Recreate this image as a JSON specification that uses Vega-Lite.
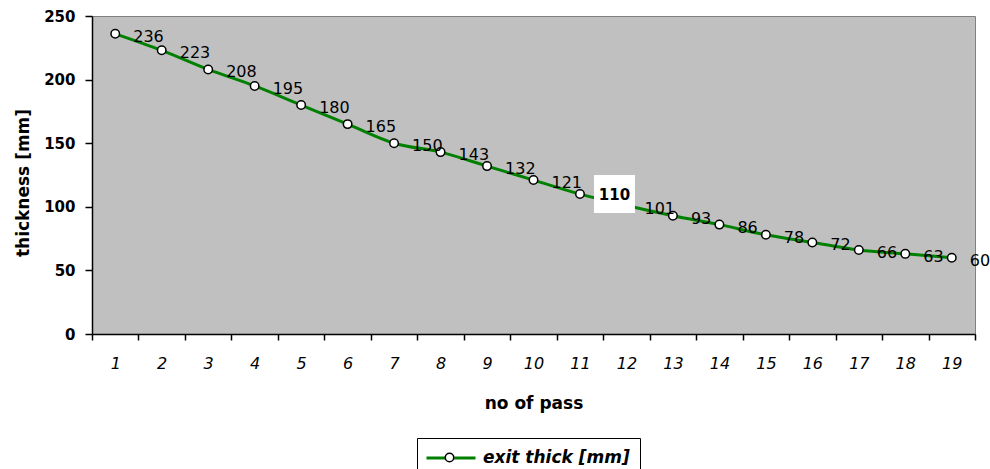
{
  "$schema": "https://vega.github.io/schema/vega-lite/v6.json",
  "width": 883,
  "height": 318,
  "autosize": {"type": "none"},
  "padding": {"left": 92, "top": 16, "right": 15, "bottom": 135},
  "background": "white",
  "data": {
    "values": [
      {"pass": 1, "thickness": 236, "series": "exit thick [mm]"},
      {"pass": 2, "thickness": 223, "series": "exit thick [mm]"},
      {"pass": 3, "thickness": 208, "series": "exit thick [mm]"},
      {"pass": 4, "thickness": 195, "series": "exit thick [mm]"},
      {"pass": 5, "thickness": 180, "series": "exit thick [mm]"},
      {"pass": 6, "thickness": 165, "series": "exit thick [mm]"},
      {"pass": 7, "thickness": 150, "series": "exit thick [mm]"},
      {"pass": 8, "thickness": 143, "series": "exit thick [mm]"},
      {"pass": 9, "thickness": 132, "series": "exit thick [mm]"},
      {"pass": 10, "thickness": 121, "series": "exit thick [mm]"},
      {"pass": 11, "thickness": 110, "series": "exit thick [mm]"},
      {"pass": 12, "thickness": 101, "series": "exit thick [mm]"},
      {"pass": 13, "thickness": 93, "series": "exit thick [mm]"},
      {"pass": 14, "thickness": 86, "series": "exit thick [mm]"},
      {"pass": 15, "thickness": 78, "series": "exit thick [mm]"},
      {"pass": 16, "thickness": 72, "series": "exit thick [mm]"},
      {"pass": 17, "thickness": 66, "series": "exit thick [mm]"},
      {"pass": 18, "thickness": 63, "series": "exit thick [mm]"},
      {"pass": 19, "thickness": 60, "series": "exit thick [mm]"}
    ]
  },
  "encoding": {
    "x": {
      "field": "pass",
      "type": "ordinal",
      "scale": {"type": "band", "paddingInner": 0, "paddingOuter": 0},
      "axis": {
        "title": "no of pass",
        "tickBand": "extent",
        "labelAngle": 0,
        "tickSize": 6,
        "labelPadding": 15,
        "labelFontStyle": "italic",
        "labelFontSize": 16,
        "titleFontSize": 17,
        "titleFontWeight": "bold",
        "titleY": 69,
        "titleBaseline": "middle",
        "grid": false
      }
    },
    "y": {
      "field": "thickness",
      "type": "quantitative",
      "scale": {"domain": [0, 250], "nice": false},
      "axis": {
        "title": "thickness [mm]",
        "values": [0, 50, 100, 150, 200, 250],
        "tickSize": 7,
        "labelPadding": 10,
        "labelFontWeight": "bold",
        "labelFontSize": 15,
        "titleFontSize": 17,
        "titleFontWeight": "bold",
        "titleX": -69,
        "titleY": 166.5,
        "titleAngle": 270,
        "titleBaseline": "middle",
        "titleAlign": "center",
        "grid": false
      }
    }
  },
  "layer": [
    {
      "mark": {"type": "line", "strokeWidth": 3, "interpolate": "monotone"},
      "encoding": {
        "stroke": {
          "field": "series",
          "type": "nominal",
          "scale": {"range": ["#008000"]},
          "legend": {
            "title": null,
            "orient": "none",
            "legendX": 325,
            "legendY": 422,
            "padding": 10,
            "strokeColor": "black",
            "symbolType": "M-1.235,0H1.04M2.02,0H4.53",
            "symbolSize": 289,
            "symbolStrokeWidth": 3,
            "symbolFillColor": "transparent",
            "labelFontSize": 17,
            "labelFontWeight": "bold",
            "labelFontStyle": "italic",
            "labelColor": "black",
            "labelOffset": 36,
            "labelLimit": 400
          }
        }
      }
    },
    {
      "mark": {"type": "point", "filled": true, "size": 72, "stroke": "black", "strokeWidth": 1.5, "opacity": 1},
      "encoding": {
        "fill": {
          "datum": "exit thick [mm]",
          "type": "nominal",
          "scale": {"range": ["white"]},
          "legend": {
            "title": null,
            "orient": "none",
            "legendX": 325,
            "legendY": 422,
            "padding": 10,
            "symbolType": "M1.03,0A0.5,0.5,0,1,1,2.03,0A0.5,0.5,0,1,1,1.03,0Z",
            "symbolSize": 289,
            "symbolStrokeColor": "black",
            "symbolStrokeWidth": 1.5,
            "symbolOpacity": 1,
            "labelFontSize": 17,
            "labelFontWeight": "bold",
            "labelFontStyle": "italic",
            "labelOpacity": 0,
            "labelOffset": 36,
            "labelLimit": 400
          }
        }
      }
    },
    {
      "transform": [{"filter": "datum.pass != 11"}],
      "mark": {"type": "text", "align": "left", "baseline": "middle", "dx": 18, "dy": 3, "fontSize": 16, "color": "black"},
      "encoding": {"text": {"field": "thickness", "type": "quantitative"}}
    },
    {
      "transform": [{"filter": "datum.pass == 11"}],
      "mark": {"type": "point", "shape": "M-1,-0.927L1,-0.927L1,0.927L-1,0.927Z", "size": 1681, "filled": true, "fill": "white", "strokeWidth": 0, "opacity": 1, "xOffset": 34.5}
    },
    {
      "transform": [{"filter": "datum.pass == 11"}],
      "mark": {"type": "text", "align": "center", "baseline": "middle", "dx": 34.5, "dy": 0.5, "fontSize": 15, "fontWeight": "bold", "color": "black"},
      "encoding": {"text": {"field": "thickness", "type": "quantitative"}}
    }
  ],
  "config": {
    "font": "DejaVu Sans",
    "view": {"fill": "#C0C0C0", "stroke": "#808080", "strokeWidth": 1},
    "axis": {
      "labelFont": "DejaVu Sans",
      "titleFont": "DejaVu Sans",
      "labelColor": "black",
      "titleColor": "black",
      "domainColor": "black",
      "tickColor": "black",
      "domainWidth": 1.5,
      "tickWidth": 1.5
    },
    "legend": {"labelFont": "DejaVu Sans"},
    "text": {"font": "DejaVu Sans"}
  }
}
